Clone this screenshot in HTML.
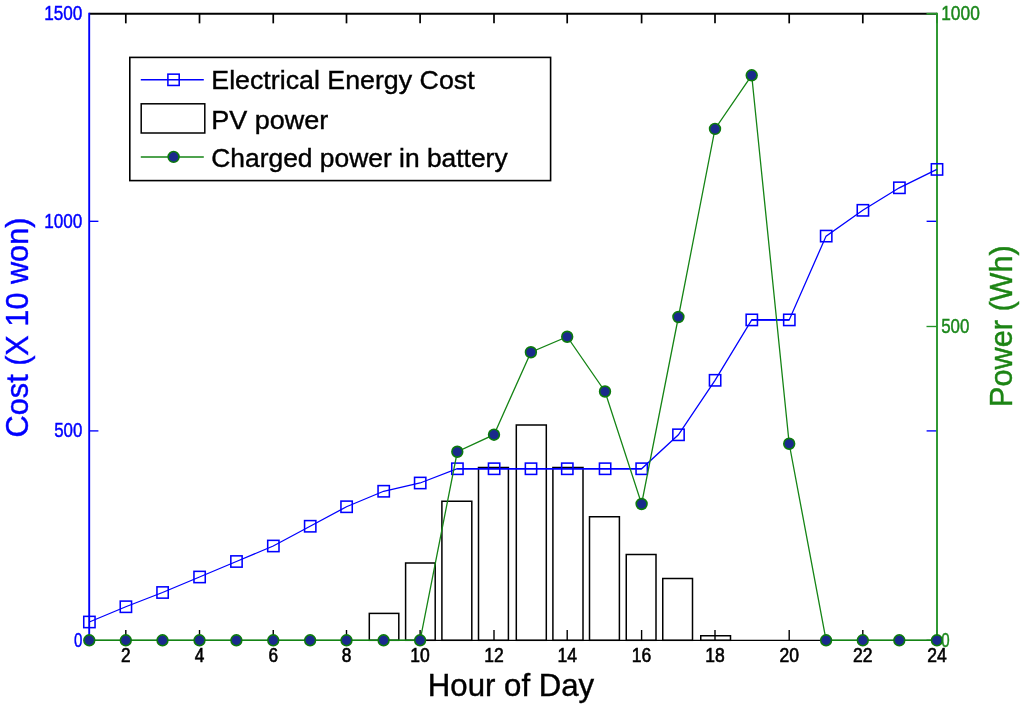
<!DOCTYPE html>
<html lang="en">
<head>
<meta charset="utf-8">
<title>Electrical Energy Cost, PV power and Charged power in battery</title>
<style>
html,body{margin:0;padding:0;background:#fff;}
body{width:1024px;height:707px;overflow:hidden;}
svg{display:block;}
text{font-family:"Liberation Sans",sans-serif;}
.tk{font-size:19.5px;}
.lg{font-size:26.5px;fill:#000;}
.ax{font-size:31.2px;}
</style>
</head>
<body>
<svg width="1024" height="707" viewBox="0 0 1024 707">
<rect width="1024" height="707" fill="#fff"/>
<g fill="#fff" stroke="#000" stroke-width="1.5">
<rect x="369.30" y="613.40" width="29.50" height="26.90"/>
<rect x="405.60" y="563.00" width="29.60" height="77.30"/>
<rect x="441.90" y="501.25" width="29.90" height="139.05"/>
<rect x="478.50" y="467.50" width="29.90" height="172.80"/>
<rect x="516.30" y="425.00" width="30.00" height="215.30"/>
<rect x="552.90" y="467.50" width="30.10" height="172.80"/>
<rect x="589.50" y="516.75" width="29.90" height="123.55"/>
<rect x="626.25" y="554.50" width="29.75" height="85.80"/>
<rect x="662.75" y="578.50" width="29.75" height="61.80"/>
<rect x="700.75" y="635.75" width="29.75" height="4.55"/>
</g>
<g stroke="#000" fill="none">
<line x1="89.2" y1="13.75" x2="937.0" y2="13.75" stroke-width="1.8"/>
<line x1="420.1" y1="640.3" x2="826.1" y2="640.3" stroke-width="1.35"/>
<line x1="125.80" y1="640.3" x2="125.80" y2="630.0" stroke-width="1.4"/><line x1="125.80" y1="13.75" x2="125.80" y2="23.35" stroke-width="1.7"/>
<line x1="199.51" y1="640.3" x2="199.51" y2="630.0" stroke-width="1.4"/><line x1="199.51" y1="13.75" x2="199.51" y2="23.35" stroke-width="1.7"/>
<line x1="273.25" y1="640.3" x2="273.25" y2="630.0" stroke-width="1.4"/><line x1="273.25" y1="13.75" x2="273.25" y2="23.35" stroke-width="1.7"/>
<line x1="346.50" y1="640.3" x2="346.50" y2="630.0" stroke-width="1.4"/><line x1="346.50" y1="13.75" x2="346.50" y2="23.35" stroke-width="1.7"/>
<line x1="420.10" y1="640.3" x2="420.10" y2="630.0" stroke-width="1.4"/><line x1="420.10" y1="13.75" x2="420.10" y2="23.35" stroke-width="1.7"/>
<line x1="494.00" y1="640.3" x2="494.00" y2="630.0" stroke-width="1.4"/><line x1="494.00" y1="13.75" x2="494.00" y2="23.35" stroke-width="1.7"/>
<line x1="567.20" y1="640.3" x2="567.20" y2="630.0" stroke-width="1.4"/><line x1="567.20" y1="13.75" x2="567.20" y2="23.35" stroke-width="1.7"/>
<line x1="641.60" y1="640.3" x2="641.60" y2="630.0" stroke-width="1.4"/><line x1="641.60" y1="13.75" x2="641.60" y2="23.35" stroke-width="1.7"/>
<line x1="715.00" y1="640.3" x2="715.00" y2="630.0" stroke-width="1.4"/><line x1="715.00" y1="13.75" x2="715.00" y2="23.35" stroke-width="1.7"/>
<line x1="789.20" y1="640.3" x2="789.20" y2="630.0" stroke-width="1.4"/><line x1="789.20" y1="13.75" x2="789.20" y2="23.35" stroke-width="1.7"/>
<line x1="862.80" y1="640.3" x2="862.80" y2="630.0" stroke-width="1.4"/><line x1="862.80" y1="13.75" x2="862.80" y2="23.35" stroke-width="1.7"/>
<line x1="936.90" y1="640.3" x2="936.90" y2="630.0" stroke-width="1.4"/><line x1="936.90" y1="13.75" x2="936.90" y2="23.35" stroke-width="1.7"/>
</g>
<g stroke="#0000ff" fill="none">
<line x1="89.2" y1="12.85" x2="89.2" y2="641.0" stroke-width="1.9"/>
<line x1="89.2" y1="430.90" x2="98.4" y2="430.90" stroke-width="1.35"/><line x1="937.0" y1="430.90" x2="926.6" y2="430.90" stroke-width="1.35"/>
<line x1="89.2" y1="221.30" x2="98.4" y2="221.30" stroke-width="1.35"/><line x1="937.0" y1="221.30" x2="926.6" y2="221.30" stroke-width="1.35"/>
</g>
<g stroke="#26942a" fill="none">
<line x1="937.0" y1="12.85" x2="937.0" y2="641.0" stroke-width="1.9"/>
<line x1="937.0" y1="640.30" x2="926.5" y2="640.30" stroke-width="1.35"/>
<line x1="937.0" y1="326.50" x2="926.5" y2="326.50" stroke-width="1.35"/>
<line x1="937.0" y1="13.75" x2="926.5" y2="13.75" stroke-width="1.8"/>
</g>
<polyline points="89.30,622.00 125.80,606.75 162.50,592.50 199.51,577.00 236.38,561.50 273.25,546.00 310.12,526.25 346.50,506.75 383.60,491.25 420.10,483.00 457.30,468.75 494.00,468.75 530.90,468.75 567.20,468.75 605.00,468.75 641.60,468.75 678.40,434.80 715.00,380.30 751.70,319.90 789.20,319.90 826.10,236.10 862.80,210.30 899.30,187.80 936.90,169.40" fill="none" stroke="#0000ff" stroke-width="1.3"/>
<path d="M457.30 468.75H641.60M751.70 319.9H789.20" fill="none" stroke="#0000ff" stroke-width="1.6"/>
<g fill="none" stroke="#0000ff" stroke-width="1.55">
<rect x="83.75" y="616.35" width="11.3" height="11.3"/>
<rect x="120.25" y="601.10" width="11.3" height="11.3"/>
<rect x="156.95" y="586.85" width="11.3" height="11.3"/>
<rect x="193.96" y="571.35" width="11.3" height="11.3"/>
<rect x="230.83" y="555.85" width="11.3" height="11.3"/>
<rect x="267.70" y="540.35" width="11.3" height="11.3"/>
<rect x="304.57" y="520.60" width="11.3" height="11.3"/>
<rect x="340.95" y="501.10" width="11.3" height="11.3"/>
<rect x="378.05" y="485.60" width="11.3" height="11.3"/>
<rect x="414.55" y="477.35" width="11.3" height="11.3"/>
<rect x="451.75" y="463.10" width="11.3" height="11.3"/>
<rect x="488.45" y="463.10" width="11.3" height="11.3"/>
<rect x="525.35" y="463.10" width="11.3" height="11.3"/>
<rect x="561.65" y="463.10" width="11.3" height="11.3"/>
<rect x="599.45" y="463.10" width="11.3" height="11.3"/>
<rect x="636.05" y="463.10" width="11.3" height="11.3"/>
<rect x="672.85" y="429.15" width="11.3" height="11.3"/>
<rect x="709.45" y="374.65" width="11.3" height="11.3"/>
<rect x="746.15" y="314.25" width="11.3" height="11.3"/>
<rect x="783.65" y="314.25" width="11.3" height="11.3"/>
<rect x="820.55" y="230.45" width="11.3" height="11.3"/>
<rect x="857.25" y="204.65" width="11.3" height="11.3"/>
<rect x="893.75" y="182.15" width="11.3" height="11.3"/>
<rect x="931.35" y="163.75" width="11.3" height="11.3"/>
</g>
<polyline points="89.30,640.30 125.80,640.30 162.50,640.30 199.51,640.30 236.38,640.30 273.25,640.30 310.12,640.30 346.50,640.30 383.60,640.30 420.10,640.30 457.30,451.75 494.00,434.70 530.90,352.25 567.20,336.75 605.00,391.50 641.60,504.00 678.40,317.00 715.00,128.90 751.70,75.30 789.20,443.75 826.10,640.30 862.80,640.30 899.30,640.30 936.90,640.30" fill="none" stroke="#158415" stroke-width="1.3"/>
<path d="M89.30 640.3H420.10M826.10 640.3H936.90" fill="none" stroke="#158415" stroke-width="1.4"/>
<g fill="#1a2a8c" stroke="#0c7a0c" stroke-width="1.6">
<circle cx="89.30" cy="640.30" r="5.4"/>
<circle cx="125.80" cy="640.30" r="5.4"/>
<circle cx="162.50" cy="640.30" r="5.4"/>
<circle cx="199.51" cy="640.30" r="5.4"/>
<circle cx="236.38" cy="640.30" r="5.4"/>
<circle cx="273.25" cy="640.30" r="5.4"/>
<circle cx="310.12" cy="640.30" r="5.4"/>
<circle cx="346.50" cy="640.30" r="5.4"/>
<circle cx="383.60" cy="640.30" r="5.4"/>
<circle cx="420.10" cy="640.30" r="5.4"/>
<circle cx="457.30" cy="451.75" r="5.4"/>
<circle cx="494.00" cy="434.70" r="5.4"/>
<circle cx="530.90" cy="352.25" r="5.4"/>
<circle cx="567.20" cy="336.75" r="5.4"/>
<circle cx="605.00" cy="391.50" r="5.4"/>
<circle cx="641.60" cy="504.00" r="5.4"/>
<circle cx="678.40" cy="317.00" r="5.4"/>
<circle cx="715.00" cy="128.90" r="5.4"/>
<circle cx="751.70" cy="75.30" r="5.4"/>
<circle cx="789.20" cy="443.75" r="5.4"/>
<circle cx="826.10" cy="640.30" r="5.4"/>
<circle cx="862.80" cy="640.30" r="5.4"/>
<circle cx="899.30" cy="640.30" r="5.4"/>
<circle cx="936.90" cy="640.30" r="5.4"/>
</g>
<g class="tk" fill="#000" stroke="#000" stroke-width="0.6" text-anchor="middle">
<text x="125.80" y="662.2" textLength="9.6" lengthAdjust="spacingAndGlyphs">2</text>
<text x="199.51" y="662.2" textLength="9.6" lengthAdjust="spacingAndGlyphs">4</text>
<text x="273.25" y="662.2" textLength="9.6" lengthAdjust="spacingAndGlyphs">6</text>
<text x="346.50" y="662.2" textLength="9.6" lengthAdjust="spacingAndGlyphs">8</text>
<text x="420.10" y="662.2" textLength="19.5" lengthAdjust="spacingAndGlyphs">10</text>
<text x="494.00" y="662.2" textLength="19.5" lengthAdjust="spacingAndGlyphs">12</text>
<text x="567.20" y="662.2" textLength="19.5" lengthAdjust="spacingAndGlyphs">14</text>
<text x="641.60" y="662.2" textLength="19.5" lengthAdjust="spacingAndGlyphs">16</text>
<text x="715.00" y="662.2" textLength="19.5" lengthAdjust="spacingAndGlyphs">18</text>
<text x="789.20" y="662.2" textLength="19.5" lengthAdjust="spacingAndGlyphs">20</text>
<text x="862.80" y="662.2" textLength="19.5" lengthAdjust="spacingAndGlyphs">22</text>
<text x="936.90" y="662.2" textLength="19.5" lengthAdjust="spacingAndGlyphs">24</text>
</g>
<g class="tk" fill="#0000ff" stroke="#0000ff" stroke-width="0.45" text-anchor="end">
<text x="82.4" y="646.50" textLength="8.4" lengthAdjust="spacingAndGlyphs">0</text>
<text x="82.4" y="437.10" textLength="28.2" lengthAdjust="spacingAndGlyphs">500</text>
<text x="82.4" y="227.50" textLength="38.2" lengthAdjust="spacingAndGlyphs">1000</text>
<text x="82.4" y="19.95" textLength="38.2" lengthAdjust="spacingAndGlyphs">1500</text>
</g>
<g class="tk" fill="#1c881c" stroke="#1c881c" stroke-width="0.45" text-anchor="start">
<text x="941.2" y="646.50" textLength="8.4" lengthAdjust="spacingAndGlyphs">0</text>
<text x="941.2" y="332.70" textLength="28.2" lengthAdjust="spacingAndGlyphs">500</text>
<text x="941.2" y="19.95" textLength="38.6" lengthAdjust="spacingAndGlyphs">1000</text>
</g>
<text class="ax" fill="#000" stroke="#000" stroke-width="0.4" x="511" y="695.6" text-anchor="middle">Hour of Day</text>
<text class="ax" fill="#0000ff" stroke="#0000ff" stroke-width="0.4" transform="translate(28.2 327.5) rotate(-90)" text-anchor="middle" textLength="219.8" lengthAdjust="spacingAndGlyphs">Cost (X 10 won)</text>
<text class="ax" fill="#1c8414" stroke="#1c8414" stroke-width="0.4" transform="translate(1012.3 326.1) rotate(-90)" text-anchor="middle" textLength="161.8" lengthAdjust="spacingAndGlyphs">Power (Wh)</text>
<g>
<rect x="129.8" y="57.4" width="420.8" height="123.2" fill="#fff" stroke="#000" stroke-width="1.6"/>
<line x1="140.8" y1="79.8" x2="203.8" y2="79.8" stroke="#0000ff" stroke-width="1.5"/>
<rect x="167.9" y="74.15" width="11.3" height="11.3" fill="none" stroke="#0000ff" stroke-width="1.55"/>
<rect x="141.2" y="103.8" width="63.6" height="29.2" fill="#fff" stroke="#000" stroke-width="1.5"/>
<line x1="140.8" y1="156.9" x2="203.8" y2="156.9" stroke="#158415" stroke-width="1.5"/>
<circle cx="173.6" cy="156.9" r="5.4" fill="#1a2a8c" stroke="#0c7a0c" stroke-width="1.6"/>
<g class="lg" stroke="#000" stroke-width="0.4">
<text x="211.3" y="89.4" textLength="263.3" lengthAdjust="spacingAndGlyphs">Electrical Energy Cost</text>
<text x="211.3" y="129" textLength="117" lengthAdjust="spacingAndGlyphs">PV power</text>
<text x="211.3" y="167" textLength="296.3" lengthAdjust="spacingAndGlyphs">Charged power in battery</text>
</g>
</g>
</svg>
</body>
</html>
